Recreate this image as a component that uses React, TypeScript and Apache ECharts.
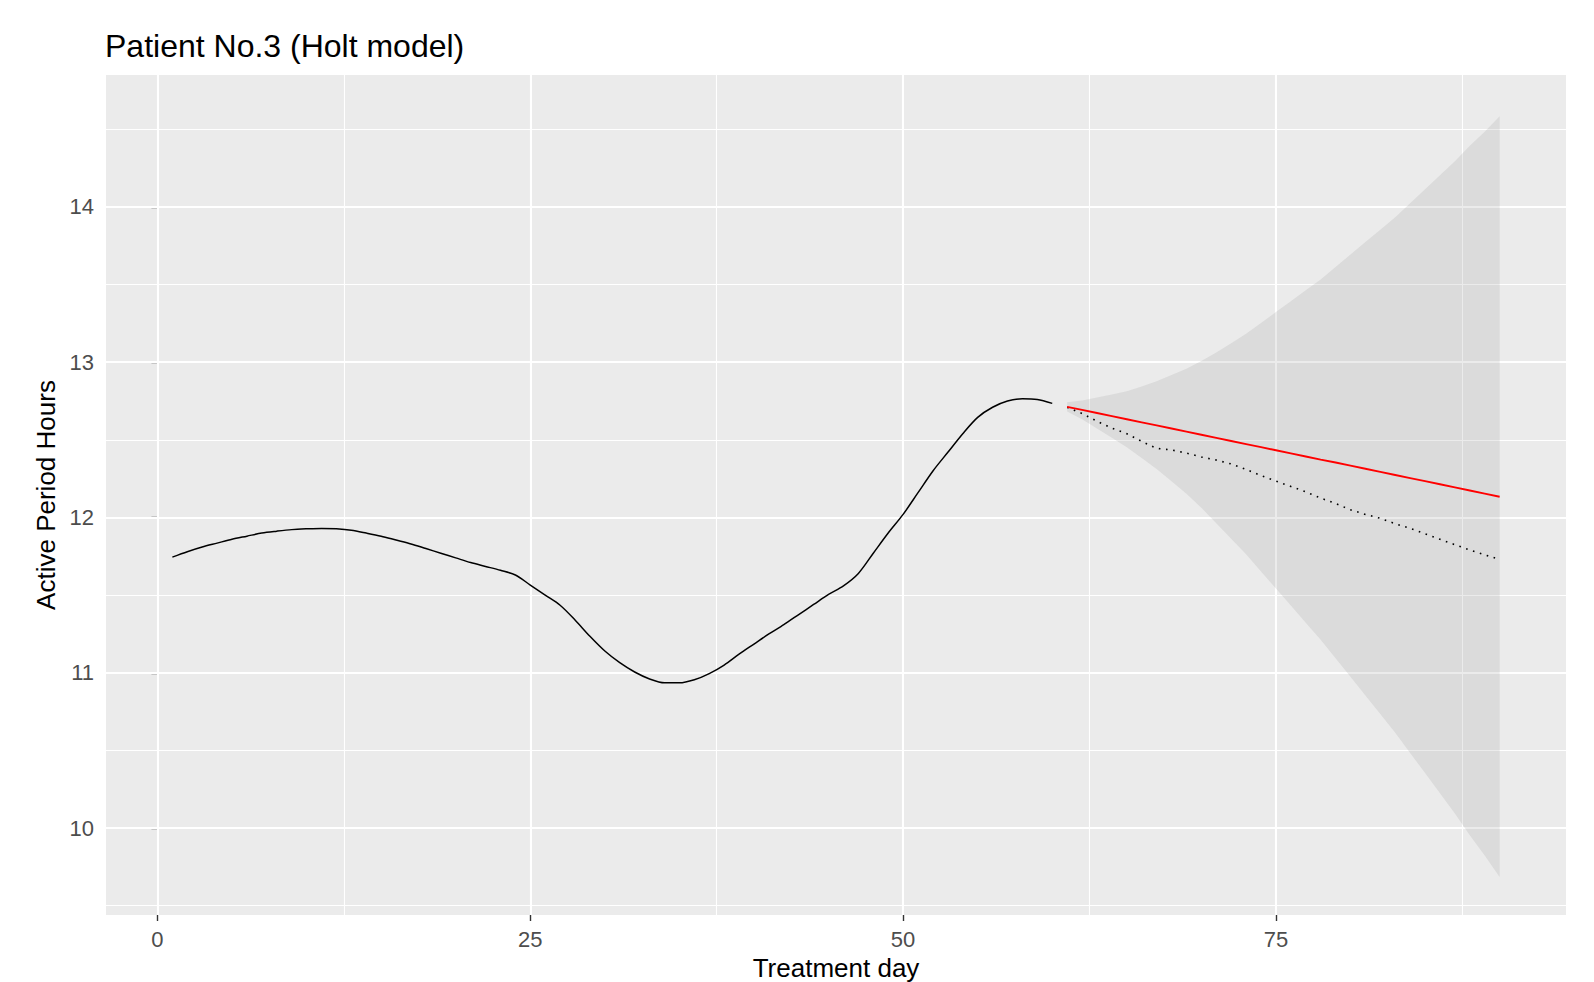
import React, { useEffect, useRef } from 'react';
import * as echarts from 'echarts';

// ---- data ----
const observedDays = [
  1, 2, 3, 4, 5, 6, 7, 8, 9, 10, 11, 12, 13, 14, 15, 16, 17, 18, 19, 20,
  21, 22, 23, 24, 25, 26, 27, 28, 29, 30, 31, 32, 33, 34, 35, 36, 37, 38, 39, 40,
  41, 42, 43, 44, 45, 46, 47, 48, 49, 50, 51, 52, 53, 54, 55, 56, 57, 58, 59, 60,
];
const observedHours = [
  11.745, 11.78, 11.81, 11.835, 11.86, 11.88, 11.9, 11.912, 11.922, 11.927,
  11.93, 11.927, 11.918, 11.9, 11.88, 11.855, 11.83, 11.8, 11.77, 11.74,
  11.71, 11.685, 11.66, 11.63, 11.565, 11.5, 11.435, 11.34, 11.235, 11.14,
  11.065, 11.005, 10.96, 10.935, 10.935, 10.955, 10.995, 11.05, 11.12, 11.185,
  11.25, 11.31, 11.375, 11.44, 11.505, 11.56, 11.64, 11.77, 11.9, 12.02,
  12.16, 12.3, 12.42, 12.54, 12.645, 12.71, 12.75, 12.765, 12.76, 12.735,
];
const forecastDays = [
  61, 62, 63, 64, 65, 66, 67, 68, 69, 70, 71, 72, 73, 74, 75,
  76, 77, 78, 79, 80, 81, 82, 83, 84, 85, 86, 87, 88, 89, 90,
];
const forecastMean = [
  12.713, 12.693, 12.673, 12.653, 12.633, 12.613, 12.593, 12.573, 12.553, 12.533,
  12.513, 12.493, 12.473, 12.453, 12.433, 12.413, 12.393, 12.373, 12.354, 12.334,
  12.314, 12.294, 12.274, 12.254, 12.234, 12.214, 12.194, 12.174, 12.154, 12.134,
];
const actualHours = [
  12.71, 12.67, 12.62, 12.575, 12.54, 12.49, 12.445, 12.435, 12.415, 12.39,
  12.37, 12.345, 12.31, 12.27, 12.235, 12.2, 12.165, 12.125, 12.09, 12.05,
  12.02, 11.995, 11.96, 11.93, 11.895, 11.86, 11.825, 11.79, 11.76, 11.73,
];
const forecastUpper = [
  12.743, 12.753, 12.773, 12.793, 12.813, 12.843, 12.878, 12.918, 12.958, 13.008,
  13.063, 13.123, 13.183, 13.253, 13.323, 13.393, 13.463, 13.533, 13.614, 13.694,
  13.774, 13.854, 13.934, 14.024, 14.114, 14.204, 14.294, 14.394, 14.484, 14.584,
];
const forecastLower = [
  12.683, 12.633, 12.573, 12.513, 12.453, 12.383, 12.313, 12.233, 12.153, 12.063,
  11.963, 11.863, 11.763, 11.653, 11.543, 11.433, 11.323, 11.213, 11.094, 10.974,
  10.854, 10.734, 10.614, 10.484, 10.354, 10.224, 10.094, 9.954, 9.824, 9.684,
];

const xTicks = [0, 25, 50, 75];
const xMinor = [12.5, 37.5, 62.5, 87.5];
const yTicks = [10, 11, 12, 13, 14];
const yMinor = [9.5, 10.5, 11.5, 12.5, 13.5, 14.5];

const FONT = '"Liberation Sans", Arial, Helvetica, sans-serif';

const pairs = (xs: number[], ys: number[]) => xs.map((x, i) => [x, ys[i]]);

export default function App() {
  const ref = useRef<HTMLDivElement>(null);

  useEffect(() => {
    if (!ref.current) return;
    const chart = echarts.init(ref.current, null, { renderer: 'svg' });

    const gridLines = [
      ...xTicks.map((v) => ({ xAxis: v, lineStyle: { width: 2.1 } })),
      ...xMinor.map((v) => ({ xAxis: v, lineStyle: { width: 1.1 } })),
      ...yTicks.map((v) => ({ yAxis: v, lineStyle: { width: 2.1 } })),
      ...yMinor.map((v) => ({ yAxis: v, lineStyle: { width: 1.1 } })),
    ];

    const option: any = {
      animation: false,
      backgroundColor: '#ffffff',
      textStyle: { fontFamily: FONT },
      title: {
        text: 'Patient No.3 (Holt model)',
        left: 105,
        top: 30,
        padding: 0,
        textStyle: { fontSize: 32, fontWeight: 'normal', color: '#000000', fontFamily: FONT },
      },
      grid: {
        left: 106,
        top: 75,
        width: 1460,
        height: 840,
        show: true,
        backgroundColor: '#ebebeb',
        borderWidth: 0,
        containLabel: false,
        outerBoundsMode: 'none',
      },
      xAxis: {
        type: 'value',
        min: -3.45,
        max: 94.45,
        name: 'Treatment day',
        nameLocation: 'middle',
        nameGap: 33,
        nameTextStyle: { fontSize: 26, lineHeight: 26, color: '#000000', fontFamily: FONT },
        axisLine: { show: false },
        axisTick: { show: true, length: 6, customValues: xTicks, lineStyle: { color: '#333333', width: 1.4 } },
        axisLabel: { customValues: xTicks, fontSize: 22, color: '#4d4d4d', margin: 13, fontFamily: FONT },
        splitLine: { show: false },
        minorSplitLine: { show: false },
      },
      yAxis: {
        type: 'value',
        min: 9.44,
        max: 14.85,
        name: 'Active Period Hours',
        nameLocation: 'middle',
        nameRotate: 90,
        nameGap: 38,
        nameTextStyle: { fontSize: 26, color: '#000000', fontFamily: FONT },
        axisLine: { show: false },
        axisTick: { show: true, length: 6, customValues: yTicks, lineStyle: { color: '#333333', width: 1.4 } },
        axisLabel: { customValues: yTicks, fontSize: 22, color: '#4d4d4d', margin: 12, fontFamily: FONT },
        splitLine: { show: false },
        minorSplitLine: { show: false },
      },
      series: [
        {
          name: 'grid',
          type: 'line',
          z: 1,
          data: [],
          silent: true,
          markLine: {
            z: 1,
            silent: true,
            animation: false,
            symbol: ['none', 'none'],
            label: { show: false },
            lineStyle: { color: '#ffffff', type: 'solid', opacity: 1 },
            emphasis: { disabled: true },
            data: gridLines,
          },
        },
        {
          name: 'band',
          type: 'custom',
          z: 6,
          silent: true,
          data: [[forecastDays[0], forecastMean[0]]],
          renderItem: (_params: any, api: any) => {
            const pts: number[][] = [];
            for (let i = 0; i < forecastDays.length; i++) pts.push(api.coord([forecastDays[i], forecastUpper[i]]));
            for (let i = forecastDays.length - 1; i >= 0; i--) pts.push(api.coord([forecastDays[i], forecastLower[i]]));
            return {
              type: 'polygon',
              shape: { points: pts },
              style: { fill: 'rgba(153,153,153,0.2)', stroke: 'none' },
            };
          },
        },
        {
          name: 'observed',
          type: 'line',
          z: 7,
          data: pairs(observedDays, observedHours),
          smooth: 0.3,
          showSymbol: false,
          silent: true,
          lineStyle: { color: '#000000', width: 1.5 },
        },
        {
          name: 'actual',
          type: 'line',
          z: 8,
          data: pairs(forecastDays, actualHours),
          showSymbol: false,
          silent: true,
          lineStyle: { color: '#000000', width: 1.6, type: [1.6, 5.6] },
        },
        {
          name: 'forecast',
          type: 'line',
          z: 9,
          data: pairs(forecastDays, forecastMean),
          showSymbol: false,
          silent: true,
          lineStyle: { color: '#ff0000', width: 1.9 },
        },
      ],
    };

    chart.setOption(option);
    return () => chart.dispose();
  }, []);

  return (
    <div
      ref={ref}
      style={{ position: 'fixed', left: 0, top: 0, width: 1594, height: 982, background: '#ffffff' }}
    />
  );
}
